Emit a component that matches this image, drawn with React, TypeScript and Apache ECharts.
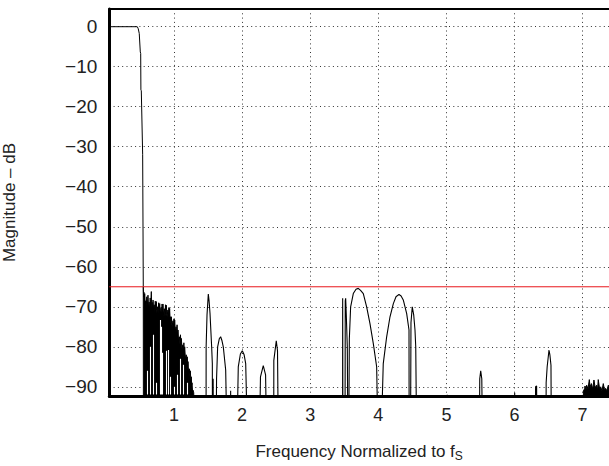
import React, { useEffect, useRef } from "react";
import * as echarts from "echarts";

const FLOOR = -120;
const X_MIN = 0.05;
const X_MAX = 7.388;
const Y_MIN = -92.3;
const Y_MAX = 4.425;

const xTicks = [1, 2, 3, 4, 5, 6, 7];
const yTicks = [0, -10, -20, -30, -40, -50, -60, -70, -80, -90];
const refLevel = -65;

// passband + transition band
const passband: number[][] = [
  [0.05, 0], [0.461, 0], [0.475, -0.5], [0.49, -1.7], [0.505, -6.3], [0.511, -6.7],
  [0.514, -15.8], [0.52, -16], [0.54, -32], [0.549, -65], [0.552, FLOOR],
];

// stop-band lobes (outlined)
const lobes: number[][] = [
  [1.47, FLOOR], [1.472, -80], [1.485, -72], [1.504, -66.8], [1.515, -68.5], [1.529, -71.7],
  [1.553, -80], [1.563, -84.2], [1.566, FLOOR], [1.575, -88], [1.583, FLOOR],
  [1.612, FLOOR], [1.625, -88], [1.641, -80], [1.665, -78], [1.685, -77.5], [1.705, -78.5],
  [1.724, -80], [1.759, -85.8], [1.797, FLOOR],
  [1.826, FLOOR], [1.832, -91], [1.838, FLOOR],
  [1.906, FLOOR], [1.944, -85], [1.975, -81.8], [2.003, -81], [2.03, -82], [2.053, -84.2], [2.101, FLOOR],
  [2.238, FLOOR], [2.27, -87.5], [2.311, -84.7], [2.345, -87], [2.376, FLOOR],
  [2.464, FLOOR], [2.466, -83.4], [2.502, -78.5], [2.52, -81], [2.542, FLOOR],
  [3.475, FLOOR], [3.477, -67.9], [3.482, FLOOR],
  [3.51, FLOOR], [3.515, -68.5], [3.521, -67.9], [3.53, -72], [3.545, -80], [3.56, FLOOR],
  [3.575, -78], [3.594, -70], [3.633, -66.7], [3.673, -65.6], [3.706, -65.4], [3.74, -65.9],
  [3.78, -66.7], [3.829, -70], [3.878, -74.2], [3.927, -79.2], [3.976, -85], [4.015, FLOOR],
  [4.073, -84.2], [4.123, -77.5], [4.172, -72.5], [4.221, -69.2], [4.26, -67.5], [4.304, -66.9],
  [4.335, -67.3], [4.367, -68.3], [4.417, -71.7], [4.451, -75.8], [4.455, FLOOR],
  [4.47, FLOOR], [4.48, -74], [4.499, -70], [4.52, -72], [4.539, -75.8], [4.55, -80], [4.573, FLOOR],
  [5.01, FLOOR], [5.013, -92], [5.016, FLOOR],
  [5.479, FLOOR], [5.49, -88], [5.504, -86], [5.52, -88], [5.542, FLOOR],
  [6.0, FLOOR], [6.003, -91.5], [6.006, FLOOR],
  [6.3, FLOOR], [6.31, -90], [6.325, -89.8], [6.335, FLOOR],
  [6.462, FLOOR], [6.465, -89], [6.48, -85], [6.507, -80.8], [6.52, -82], [6.536, -84.6], [6.546, FLOOR],
  [7.388, FLOOR],
];

// dense (filled) stop-band region just after the transition
const denseEnvelope: number[][] = [
  [0.549, -65], [0.553, -67.5], [0.557, -66.3], [0.565, -68.2], [0.57, -66.7], [0.578, -69.5],
  [0.585, -68.5], [0.593, -70.2], [0.6, -67.5], [0.61, -69.8], [0.618, -67.1], [0.627, -70.5],
  [0.635, -68.8], [0.643, -71], [0.65, -67.8], [0.658, -69.6], [0.667, -66.2], [0.674, -70.4],
  [0.68, -68.9], [0.686, -71.2], [0.692, -68.3], [0.7, -70.6], [0.71, -69.5], [0.718, -71.3],
  [0.725, -68.6], [0.733, -70.8], [0.741, -68.7], [0.75, -71.5], [0.76, -70], [0.768, -71.6],
  [0.775, -69], [0.783, -71.2], [0.79, -69.2], [0.8, -71.8], [0.81, -70.2], [0.818, -72],
  [0.825, -69.3], [0.832, -71.4], [0.838, -69.3], [0.848, -72.2], [0.86, -70.5], [0.868, -72.4],
  [0.875, -69.5], [0.88, -71.8], [0.887, -69.6], [0.898, -72.6], [0.91, -70.8], [0.918, -72.8],
  [0.925, -70.2], [0.93, -72.4], [0.936, -70.4], [0.944, -73.6], [0.95, -72.5], [0.955, -74.2],
  [0.961, -72.5], [0.972, -75], [0.985, -73.5], [0.992, -75.2], [1.0, -73], [1.005, -75.4],
  [1.01, -73.3], [1.02, -76.2], [1.03, -75], [1.038, -77], [1.045, -74.5], [1.052, -77.4],
  [1.059, -75.8], [1.068, -78.6], [1.08, -77.5], [1.088, -79.4], [1.095, -77], [1.102, -79.6],
  [1.108, -77.9], [1.118, -80.6], [1.13, -79.5], [1.138, -81.4], [1.145, -79], [1.151, -81.6],
  [1.157, -80], [1.168, -83], [1.18, -82], [1.188, -84.2], [1.195, -82.5], [1.2, -84.8],
  [1.206, -83.7], [1.215, -86.6], [1.225, -85.5], [1.232, -87.4], [1.24, -86], [1.247, -88.4],
  [1.254, -87.5], [1.26, -89.6], [1.265, -89], [1.272, -91], [1.279, -90.8], [1.29, -91.5],
  [1.304, FLOOR],
];

// white gaps inside the dense region: [x, top dB]
const denseGaps: number[][] = [
  [0.598, -86], [0.645, -80], [0.694, -77], [0.741, -89], [0.79, -73.3], [0.806, -75],
  [0.83, -81.5], [0.887, -81], [0.907, -80.8], [0.945, -87.5], [1.0, -90], [1.04, -87],
  [1.083, -83], [1.134, -84.5], [1.19, -89],
];

// noise floor near 7 fS (filled)
const noise7: number[][] = [
  [7.01, FLOOR], [7.012, -91], [7.03, -90.5], [7.036, -89.8], [7.05, -90.8], [7.06, -89.6],
  [7.08, -90.5], [7.099, -88.2], [7.11, -90], [7.13, -89.2], [7.15, -90.6], [7.167, -88.3],
  [7.185, -90.2], [7.207, -89.6], [7.22, -90.8], [7.23, -88.2], [7.25, -90.5], [7.266, -90],
  [7.285, -91], [7.304, -89.2], [7.32, -90.6], [7.339, -90.4], [7.355, -91], [7.378, -89.6],
  [7.388, -90],
];

const FONT = "'Liberation Sans', Arial, Helvetica, sans-serif";
const TXT = "#222";

export default function App() {
  const ref = useRef<HTMLDivElement>(null);
  useEffect(() => {
    const chart = echarts.init(ref.current!, null, { renderer: "svg" });
    const gridLine = { show: true, lineStyle: { color: "#333", width: 1, type: [1, 3.3] } };
    chart.setOption({
      animation: false,
      grid: {
        left: 109.3,
        right: 0,
        top: 9,
        bottom: 70,
        containLabel: false,
        outerBoundsMode: "none",
      },
      xAxis: [
        {
          type: "value",
          min: X_MIN,
          max: X_MAX,
          position: "bottom",
          axisLine: { show: true, onZero: false, lineStyle: { color: "#000", width: 3 } },
          axisTick: { show: false, customValues: xTicks },
          axisLabel: {
            customValues: xTicks,
            margin: 10,
            fontSize: 18,
            color: TXT,
            fontFamily: FONT,
          },
          splitLine: gridLine,
          name: "Frequency Normalized to f{sub|S}",
          nameLocation: "middle",
          nameGap: 45,
          nameTextStyle: {
            fontSize: 17,
            color: TXT,
            fontFamily: FONT,
            rich: { sub: { fontSize: 12, color: TXT, fontFamily: FONT, padding: [9, 0, 0, 0] } },
          },
        },
        {
          type: "value",
          min: X_MIN,
          max: X_MAX,
          position: "top",
          axisLine: { show: true, onZero: false, lineStyle: { color: "#000", width: 2 } },
          axisTick: { show: false },
          axisLabel: { show: false },
          splitLine: { show: false },
        },
      ],
      yAxis: {
        type: "value",
        min: Y_MIN,
        max: Y_MAX,
        axisLine: { show: true, onZero: false, lineStyle: { color: "#000", width: 3 } },
        axisTick: { show: false, customValues: yTicks },
        axisLabel: {
          customValues: yTicks,
          margin: 12,
          fontSize: 19,
          color: TXT,
          fontFamily: FONT,
          padding: [3, 0, 0, 0],
          formatter: (v: number) => (v < 0 ? "\u2212" + Math.abs(v) : String(v)),
        },
        splitLine: gridLine,
        name: "Magnitude \u2013 dB",
        nameLocation: "middle",
        nameGap: 91,
        nameTextStyle: { fontSize: 17, color: TXT, fontFamily: FONT },
      },
      series: [
        {
          type: "line",
          data: denseEnvelope,
          showSymbol: false,
          lineStyle: { color: "#000", width: 1 },
          areaStyle: { color: "#000", opacity: 1, origin: "start" },
          clip: true,
          silent: true,
          z: 2,
        },
        {
          type: "line",
          data: noise7,
          showSymbol: false,
          lineStyle: { color: "#000", width: 1 },
          areaStyle: { color: "#000", opacity: 1, origin: "start" },
          clip: true,
          silent: true,
          z: 2,
        },
        {
          type: "custom",
          coordinateSystem: "cartesian2d",
          xAxisIndex: 0,
          yAxisIndex: 0,
          data: denseGaps,
          silent: true,
          z: 6,
          renderItem: (_p: any, api: any) => {
            const x = api.value(0);
            const top = api.value(1);
            const p1 = api.coord([x, top]);
            const p2 = api.coord([x, Y_MIN]);
            const px = Math.round(p1[0]) + 0.5;
            return {
              type: "line",
              shape: { x1: px, y1: p1[1], x2: px, y2: p2[1] - 1.5 },
              style: { stroke: "#ffffff", lineWidth: 1.1 },
            };
          },
        },
        {
          type: "line",
          data: passband,
          showSymbol: false,
          lineStyle: { color: "#000", width: 1 },
          clip: true,
          silent: true,
          z: 3,
        },
        {
          type: "line",
          data: lobes,
          showSymbol: false,
          lineStyle: { color: "#000", width: 1.1 },
          clip: true,
          silent: true,
          z: 3,
        },
        {
          type: "line",
          data: [
            [X_MIN, refLevel],
            [X_MAX, refLevel],
          ],
          showSymbol: false,
          lineStyle: { color: "#e8161b", width: 1 },
          silent: true,
          z: 4,
        },
      ],
    });
    return () => chart.dispose();
  }, []);
  return (
    <div
      ref={ref}
      style={{ position: "fixed", left: 0, top: 0, width: 609, height: 466, background: "#fff" }}
    />
  );
}
